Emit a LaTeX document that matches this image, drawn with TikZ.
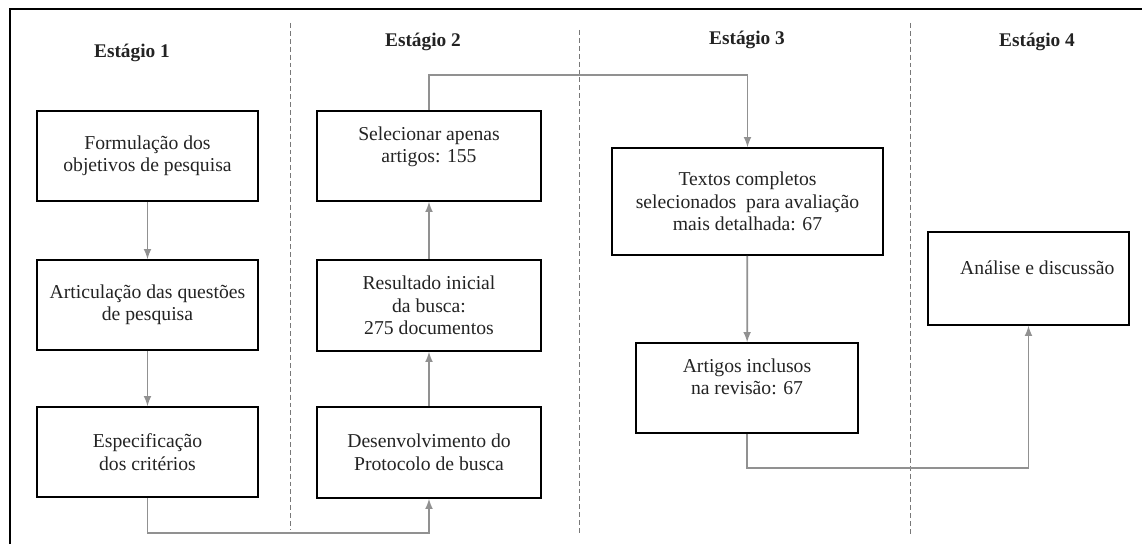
\documentclass[tikz,border=0pt]{standalone}
\usepackage{fontspec}
\setmainfont{Liberation Serif}
\usepackage{tikz}
\usetikzlibrary{calc, arrows}
\tikzset{>=latex}
\definecolor{myarrow}{RGB}{145, 145, 145}
\definecolor{mydash}{RGB}{120, 120, 120}
\definecolor{mytext}{RGB}{35, 35, 35}

\tikzset{
  etapa/.style = {draw, line width = 0.9pt, align = center, text = mytext,
    font = \fontsize{11.2}{12.8}\selectfont, inner sep = 0pt},
  titulo/.style = {font = \fontsize{11}{13}\selectfont\bfseries, text = mytext},
  seta/.style = {->, draw = myarrow, line width = 1pt},
  divisa/.style = {draw = mydash, line width = 0.45pt, dash pattern = on 2.8pt off 1.7pt}
}

\begin{document}
\begin{tikzpicture}[x = 0.02cm, y = -0.02cm]
\useasboundingbox (0,0) rectangle (1142, 544);
\draw[line width = 1.1pt] (10, 544) -- (10, 9) -- (1142, 9);
\draw[divisa] (290, 23) -- (290, 530);
\draw[divisa] (579, 30) -- (579, 533);
\draw[divisa] (910, 23) -- (910, 535);

\node[titulo] (e1) at (132, 53) {Estágio 1};
\node[titulo] (e2) at (423, 42) {Estágio 2};
\node[titulo] (e3) at (747, 40) {Estágio 3};
\node[titulo] (e4) at (1037, 42) {Estágio 4};

% estagio 1
\node[etapa, minimum width = 4.42cm, minimum height = 1.8cm] (form) at (147.5, 156)
  {Formulação dos\\objetivos de pesquisa};
\node[etapa, minimum width = 4.42cm, minimum height = 1.8cm] (artic) at (147.5, 305)
  {Articulação das questões\\de pesquisa};
\node[etapa, minimum width = 4.42cm, minimum height = 1.8cm] (espec) at (147.5, 452)
  {Especificação\\dos critérios};
% estagio 2
\node[etapa, minimum width = 4.48cm, minimum height = 1.82cm] (desenv) at (429, 452.5)
  {Desenvolvimento do\\Protocolo de busca};
\node[etapa, minimum width = 4.48cm, minimum height = 1.82cm] (result) at (429, 305.5)
  {Resultado inicial\\da busca:\\275 documentos};
\node[etapa, minimum width = 4.48cm, minimum height = 1.8cm] (selec) at (429, 156)
  {Selecionar apenas\\artigos: 155\\~};
% estagio 3
\node[etapa, minimum width = 5.42cm, minimum height = 2.14cm] (textos) at (747.5, 201.5)
  {Textos completos\\selecionados\ \ para avaliação\\mais detalhada: 67};
\node[etapa, minimum width = 4.44cm, minimum height = 1.8cm] (incl) at (747, 388)
  {Artigos inclusos\\na revisão: 67\\~};
% estagio 4
\node[etapa, minimum width = 4.02cm, minimum height = 1.86cm] (anal) at (1028.5, 278.5)
  {\hspace*{10pt}Análise e discussão\\~};

\coordinate (baixo1) at (290, 533);
\coordinate (alto) at (579, 75);
\coordinate (baixo2) at (910, 468);

\draw[seta] (form) -- (artic);
\draw[seta] (artic) -- (espec);
\draw[seta] (espec.south) |- (baixo1) -| (desenv.south);
\draw[seta] (desenv) -- (result);
\draw[seta] (result) -- (selec);
\draw[seta] (selec.north) |- (alto) -| (textos.north);
\draw[seta] (textos) -- (incl);
\draw[seta] (incl.south) |- (baixo2) -| (anal.south);

\end{tikzpicture}
\end{document}
